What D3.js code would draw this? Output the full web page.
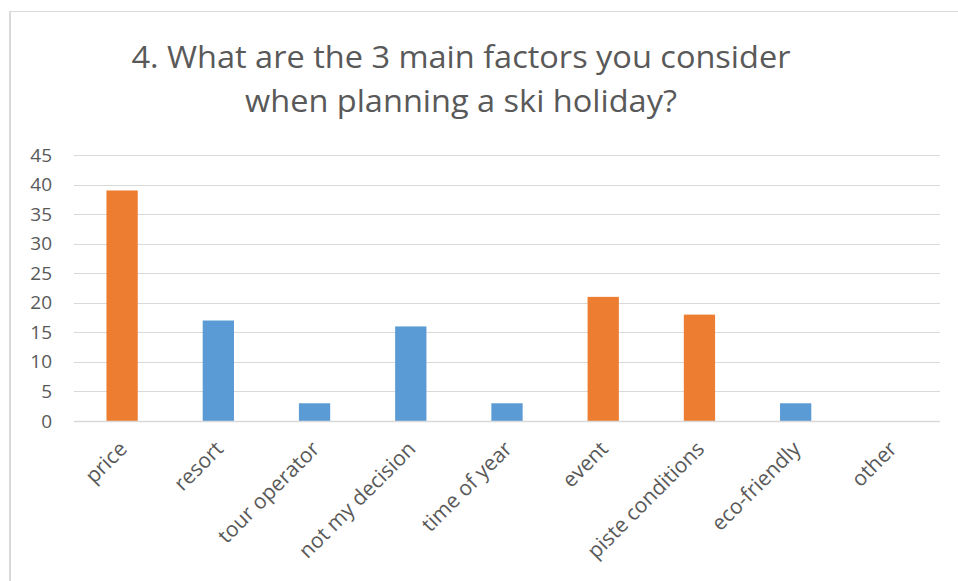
<!DOCTYPE html>
<html>
<head>
<meta charset="utf-8">
<script src="https://cdn.jsdelivr.net/npm/d3@7"></script>
<style>
  html, body { margin: 0; padding: 0; background: #fff; }
  svg { display: block; }
</style>
</head>
<body>
<svg id="chart" width="958" height="581"></svg>
<script>
// Survey answers: number of respondents naming each factor
const categories = ["price", "resort", "tour operator", "not my decision", "time of year",
                    "event", "piste conditions", "eco-friendly", "other"];
const counts = [39, 17, 3, 16, 3, 21, 18, 3, 0];
const yTicks = [0, 5, 10, 15, 20, 25, 30, 35, 40, 45];
const titleLines = ["4. What are the 3 main factors you consider", "when planning a ski holiday?"];

const svg = d3.select("#chart");
const font = "'Open Sans', 'Noto Sans', sans-serif";
const textColor = "#595959";
const gridColor = "#d9d9d9";

// chart frame
svg.append("line").attr("x1", 10).attr("x2", 958).attr("y1", 11.5).attr("y2", 11.5)
  .attr("stroke", gridColor).attr("stroke-width", 1);
svg.append("line").attr("x1", 10).attr("x2", 10).attr("y1", 11).attr("y2", 581)
  .attr("stroke", gridColor).attr("stroke-width", 2);

// title
const titleY = [68, 112];
const titleW = [659, 432];
titleLines.forEach((t, i) => {
  svg.append("text")
    .attr("x", 461).attr("y", titleY[i])
    .attr("text-anchor", "middle")
    .attr("font-family", font).attr("font-size", 31)
    .attr("fill", textColor)
    .attr("textLength", titleW[i]).attr("lengthAdjust", "spacingAndGlyphs")
    .text(t);
});

const plot = { left: 74, right: 940, top: 155, bottom: 421 };

const x = d3.scaleBand().domain(categories).range([plot.left, plot.right]).paddingInner(0.675).paddingOuter(0.3375);
const y = d3.scaleLinear().domain([0, 45]).range([plot.bottom, plot.top]);

// gridlines
svg.append("g").selectAll("line").data(yTicks).join("line")
  .attr("x1", plot.left).attr("x2", plot.right)
  .attr("y1", d => Math.round(y(d)) + 0.5).attr("y2", d => Math.round(y(d)) + 0.5)
  .attr("stroke", gridColor).attr("stroke-width", 1);

// y axis labels
const yAxis = d3.axisLeft(y).tickValues(yTicks).tickSize(0).tickPadding(0);
const gy = svg.append("g").attr("transform", `translate(52,0)`).call(yAxis);
gy.select(".domain").remove();
gy.selectAll("text").attr("font-family", font).attr("font-size", 19).attr("fill", textColor);

// the three most-named factors are highlighted
const isTop = d => d > 0 && counts.filter(v => v > d).length < 3;

svg.append("g").selectAll("rect").data(categories).join("rect")
  .attr("x", d => x(d))
  .attr("width", x.bandwidth())
  .attr("y", (d, i) => y(counts[i]))
  .attr("height", (d, i) => y(0) - y(counts[i]))
  .attr("fill", (d, i) => isTop(counts[i]) ? "#ED7D31" : "#5B9BD5");

// baseline
svg.append("line").attr("x1", plot.left).attr("x2", plot.right)
  .attr("y1", y(0) + 0.5).attr("y2", y(0) + 0.5)
  .attr("stroke", gridColor).attr("stroke-width", 1.5);

// category labels, rotated
const xAxis = d3.axisBottom(x).tickSize(0).tickPadding(0);
const gx = svg.append("g").attr("transform", `translate(0,${plot.bottom})`).call(xAxis);
gx.select(".domain").remove();
gx.selectAll("text")
  .attr("font-family", font).attr("font-size", 21).attr("fill", textColor)
  .attr("text-anchor", "end")
  .attr("dy", "0.35em")
  .attr("transform", "translate(1,24) rotate(-45)");
</script>
</body>
</html>
